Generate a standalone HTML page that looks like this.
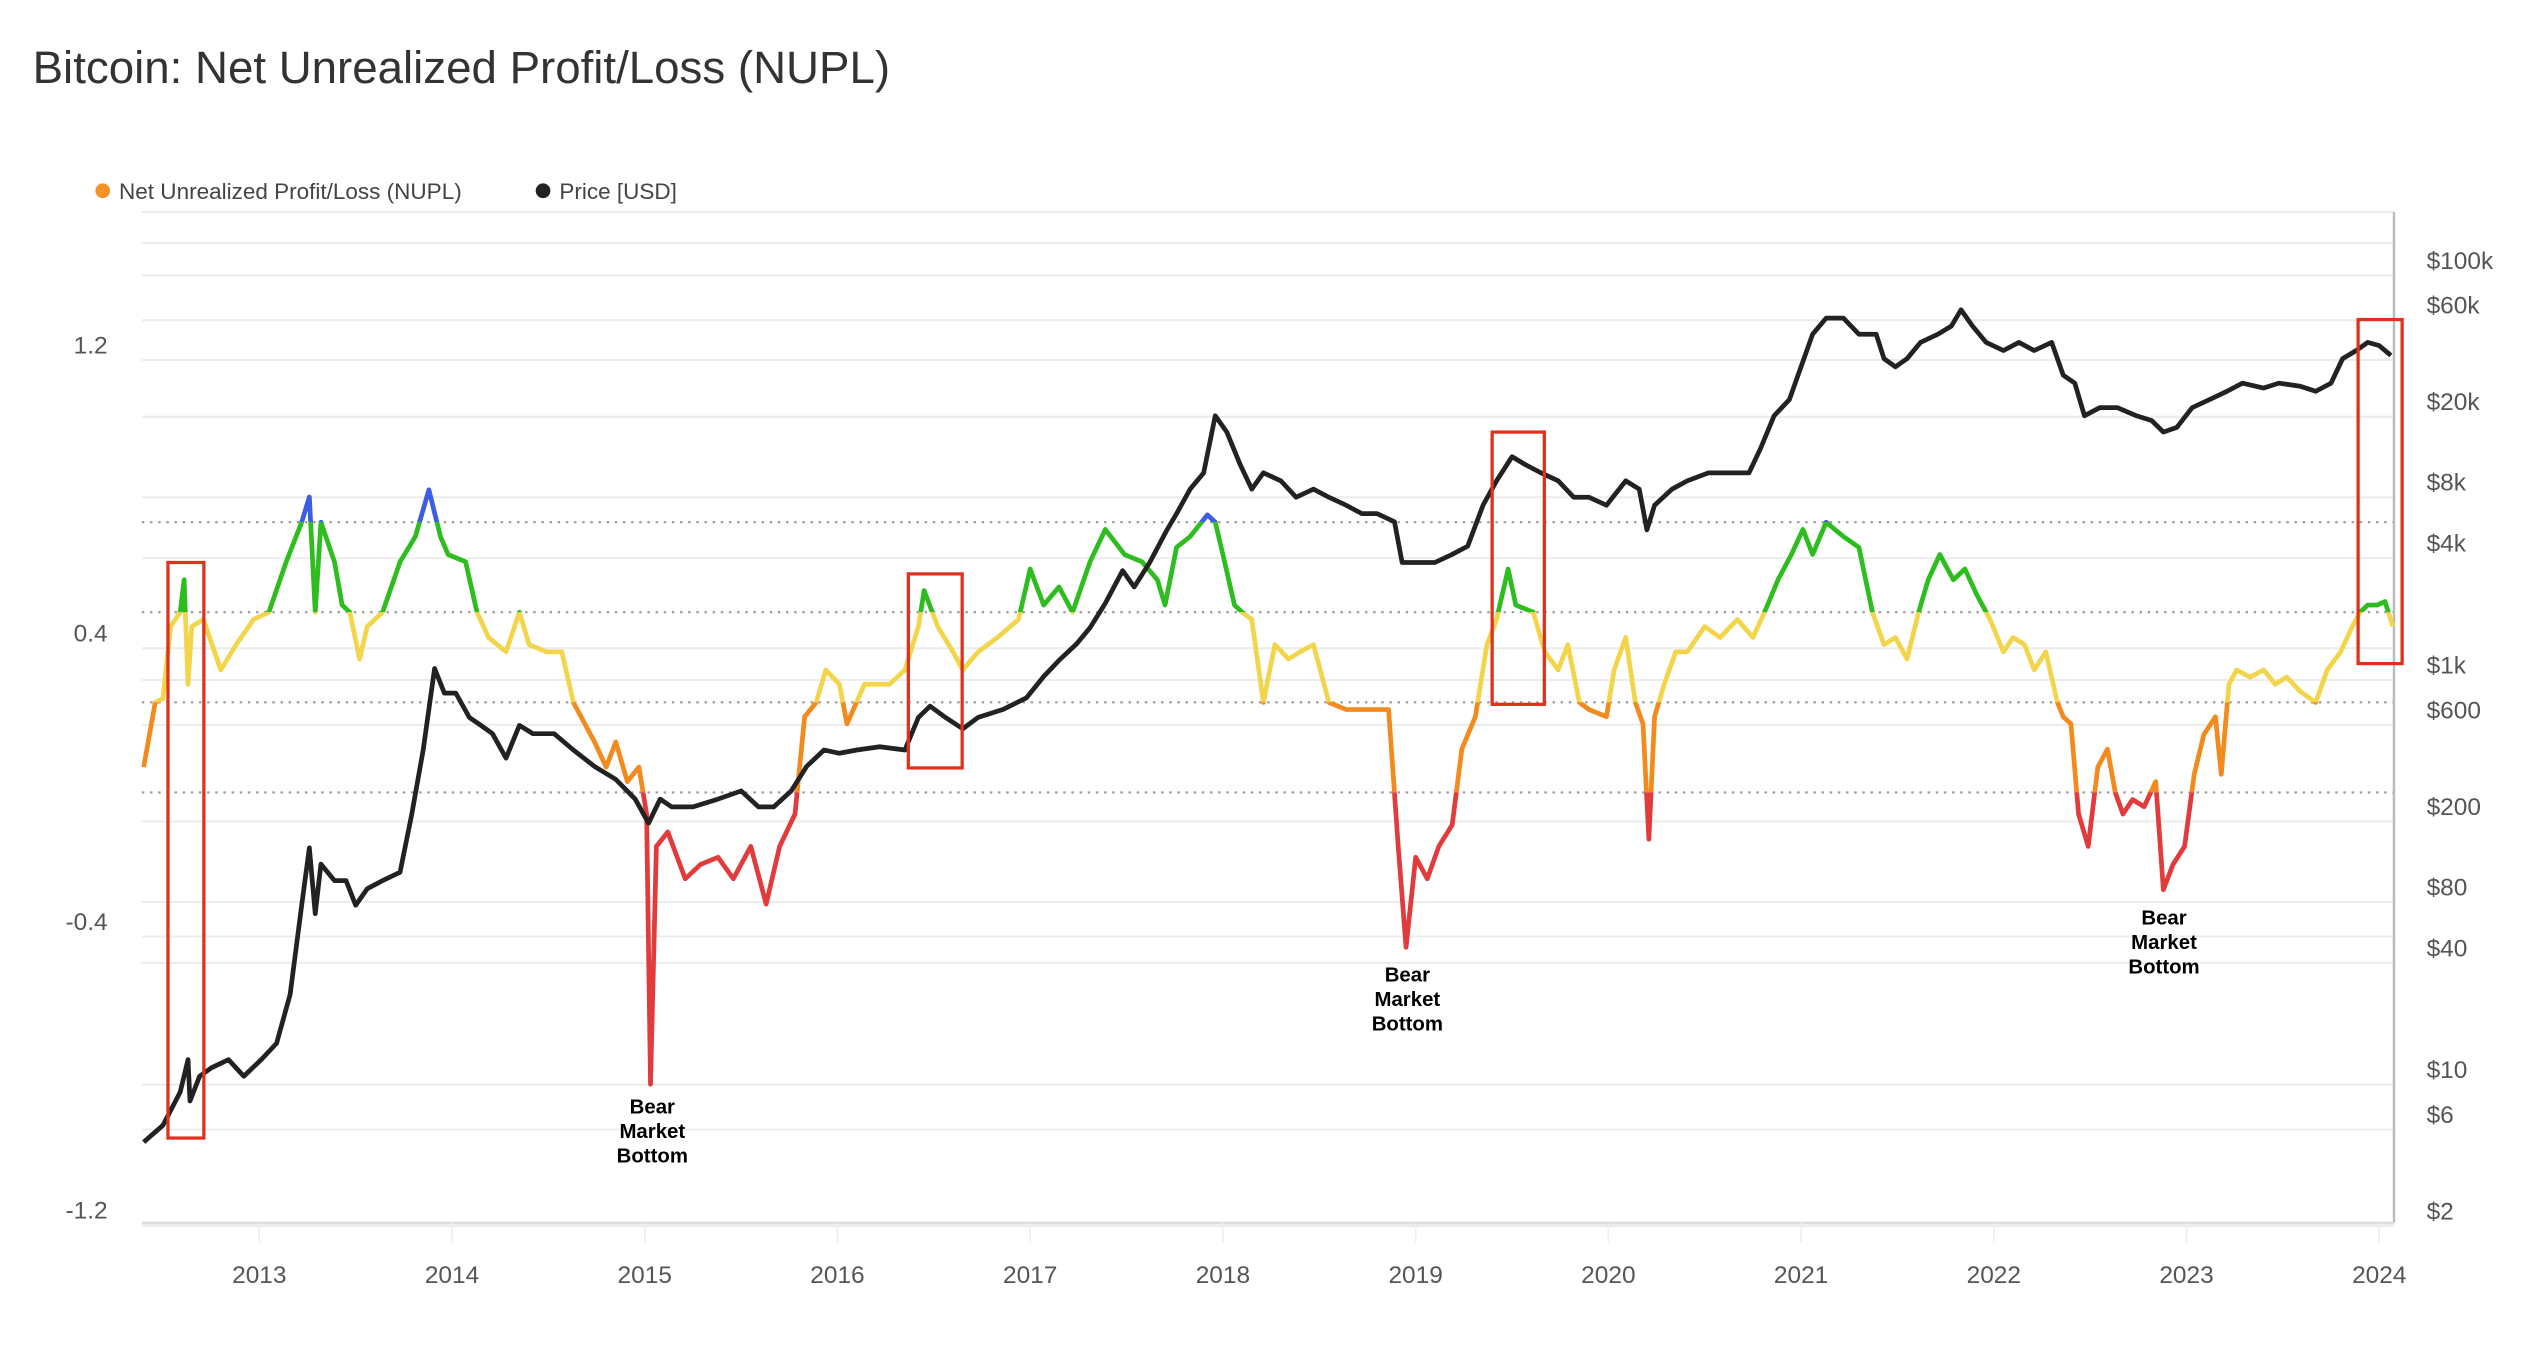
<!DOCTYPE html>
<html><head><meta charset="utf-8">
<style>
html,body{margin:0;padding:0;background:#fff;width:2544px;height:1350px;overflow:hidden;}
svg{display:block;font-family:"Liberation Sans",sans-serif;}
</style></head>
<body>
<svg id="chart" width="2544" height="1350" viewBox="0 0 1560 828" preserveAspectRatio="none" xmlns="http://www.w3.org/2000/svg">
<text x="20" y="51" font-size="28" fill="#333">Bitcoin: Net Unrealized Profit/Loss (NUPL)</text>
<g>
<g><circle cx="63" cy="117" r="4.5" fill="#f39325"/><text x="73" y="122" font-size="13.8" fill="#444">Net Unrealized Profit/Loss (NUPL)</text></g>
<g><circle cx="333" cy="117" r="4.5" fill="#222"/><text x="343" y="122" font-size="13.8" fill="#444">Price [USD]</text></g>
</g>
<g id="grid"></g>
<g id="axes"></g>
<g id="series"></g>
<g id="annot"></g>
</svg>
<script>
const nuplDates=[2012.40,2012.46,2012.50,2012.54,2012.59,2012.61,2012.63,2012.65,2012.71,2012.80,2012.88,2012.97,2013.05,2013.14,2013.22,2013.26,2013.29,2013.32,2013.39,2013.43,2013.47,2013.52,2013.56,2013.64,2013.73,2013.81,2013.88,2013.94,2013.98,2014.07,2014.13,2014.19,2014.28,2014.35,2014.40,2014.49,2014.57,2014.63,2014.74,2014.80,2014.85,2014.91,2014.97,2015.01,2015.03,2015.06,2015.12,2015.21,2015.29,2015.38,2015.46,2015.55,2015.63,2015.70,2015.78,2015.83,2015.89,2015.94,2016.01,2016.05,2016.14,2016.27,2016.35,2016.42,2016.45,2016.52,2016.60,2016.65,2016.73,2016.83,2016.94,2017.00,2017.07,2017.15,2017.22,2017.31,2017.39,2017.49,2017.58,2017.66,2017.70,2017.76,2017.83,2017.92,2017.96,2018.00,2018.06,2018.10,2018.15,2018.21,2018.27,2018.34,2018.40,2018.47,2018.55,2018.64,2018.76,2018.86,2018.91,2018.95,2019.00,2019.06,2019.12,2019.19,2019.24,2019.31,2019.37,2019.42,2019.48,2019.52,2019.61,2019.67,2019.74,2019.79,2019.85,2019.90,2019.99,2020.03,2020.09,2020.14,2020.18,2020.21,2020.24,2020.29,2020.35,2020.41,2020.50,2020.58,2020.67,2020.75,2020.81,2020.88,2020.95,2021.01,2021.06,2021.13,2021.22,2021.30,2021.37,2021.43,2021.49,2021.55,2021.61,2021.66,2021.72,2021.79,2021.85,2021.91,2021.98,2022.05,2022.10,2022.16,2022.21,2022.27,2022.33,2022.36,2022.40,2022.44,2022.49,2022.54,2022.59,2022.63,2022.67,2022.72,2022.78,2022.84,2022.88,2022.93,2022.99,2023.04,2023.09,2023.15,2023.18,2023.22,2023.26,2023.33,2023.40,2023.46,2023.52,2023.59,2023.67,2023.73,2023.80,2023.86,2023.90,2023.94,2023.99,2024.03,2024.07];
const nuplValues=[0.07,0.25,0.26,0.46,0.50,0.59,0.30,0.46,0.48,0.34,0.41,0.48,0.50,0.64,0.75,0.82,0.50,0.75,0.64,0.52,0.50,0.37,0.46,0.50,0.64,0.71,0.84,0.71,0.66,0.64,0.50,0.43,0.39,0.50,0.41,0.39,0.39,0.25,0.14,0.07,0.14,0.03,0.07,-0.06,-0.81,-0.15,-0.11,-0.24,-0.20,-0.18,-0.24,-0.15,-0.31,-0.15,-0.06,0.21,0.25,0.34,0.30,0.19,0.30,0.30,0.34,0.46,0.56,0.46,0.39,0.34,0.39,0.43,0.48,0.62,0.52,0.57,0.50,0.64,0.73,0.66,0.64,0.59,0.52,0.68,0.71,0.77,0.75,0.66,0.52,0.50,0.48,0.25,0.41,0.37,0.39,0.41,0.25,0.23,0.23,0.23,-0.15,-0.43,-0.18,-0.24,-0.15,-0.09,0.12,0.21,0.41,0.48,0.62,0.52,0.50,0.39,0.34,0.41,0.25,0.23,0.21,0.34,0.43,0.25,0.19,-0.13,0.21,0.30,0.39,0.39,0.46,0.43,0.48,0.43,0.50,0.59,0.66,0.73,0.66,0.75,0.71,0.68,0.50,0.41,0.43,0.37,0.50,0.59,0.66,0.59,0.62,0.55,0.48,0.39,0.43,0.41,0.34,0.39,0.25,0.21,0.19,-0.06,-0.15,0.07,0.12,0.00,-0.06,-0.02,-0.04,0.03,-0.27,-0.20,-0.15,0.05,0.16,0.21,0.05,0.30,0.34,0.32,0.34,0.30,0.32,0.28,0.25,0.34,0.39,0.46,0.50,0.52,0.52,0.53,0.46];
const priceDates=[2012.40,2012.50,2012.59,2012.63,2012.64,2012.69,2012.75,2012.84,2012.92,2013.01,2013.09,2013.16,2013.22,2013.26,2013.29,2013.32,2013.39,2013.45,2013.50,2013.56,2013.64,2013.73,2013.79,2013.85,2013.91,2013.96,2014.02,2014.09,2014.15,2014.21,2014.28,2014.35,2014.42,2014.53,2014.63,2014.74,2014.85,2014.95,2015.02,2015.08,2015.14,2015.25,2015.38,2015.50,2015.59,2015.67,2015.76,2015.84,2015.93,2016.01,2016.10,2016.22,2016.35,2016.42,2016.48,2016.56,2016.65,2016.73,2016.86,2016.98,2017.07,2017.15,2017.24,2017.31,2017.39,2017.48,2017.54,2017.62,2017.71,2017.76,2017.83,2017.90,2017.96,2018.02,2018.09,2018.15,2018.21,2018.30,2018.38,2018.47,2018.55,2018.64,2018.72,2018.80,2018.89,2018.93,2019.02,2019.10,2019.19,2019.27,2019.35,2019.42,2019.50,2019.57,2019.65,2019.74,2019.82,2019.90,2019.99,2020.09,2020.16,2020.20,2020.24,2020.33,2020.41,2020.52,2020.62,2020.73,2020.79,2020.86,2020.94,2021.00,2021.06,2021.13,2021.22,2021.30,2021.39,2021.43,2021.49,2021.55,2021.62,2021.71,2021.78,2021.83,2021.89,2021.96,2022.05,2022.13,2022.21,2022.30,2022.36,2022.42,2022.47,2022.55,2022.64,2022.74,2022.82,2022.88,2022.95,2023.03,2023.12,2023.21,2023.29,2023.40,2023.48,2023.59,2023.67,2023.75,2023.81,2023.88,2023.94,2024.00,2024.06];
const priceValues=[5.2,6.3,9.2,13.3,8.3,11,12.1,13.3,11,13.3,16,27.9,77,148,70,123,102,102,77,93,102,112,215,451,1140,862,862,653,596,543,411,596,543,543,451,374,323,258,196,258,236,236,258,283,236,236,283,374,451,434,451,468,451,653,743,653,574,653,716,816,1040,1250,1506,1812,2394,3468,2884,3810,5520,6640,8770,10560,20230,16790,11590,8770,10560,9640,8000,8770,8000,7300,6640,6640,6050,3810,3810,3810,4180,4580,7300,9640,12700,11590,10560,9640,8000,8000,7300,9640,8770,5520,7300,8770,9640,10560,10560,10560,13960,20230,24340,35300,51160,61500,61500,51160,51160,38700,35300,38700,46600,51160,56100,67600,56100,46600,42500,46600,42500,46600,32100,29300,20230,22200,22200,20230,19140,16790,17740,22200,24340,26700,29300,27700,29300,28300,26700,29300,38700,42500,46600,44900,40200];
const yearTicks=[2013,2014,2015,2016,2017,2018,2019,2020,2021,2022,2023,2024];
const nuplTicks=[1.2,0.4,-0.4,-1.2];
const nuplBands=[0.75,0.5,0.25,0];
const priceTicks=[100000,60000,20000,8000,4000,1000,600,200,80,40,10,6,2];
const priceTickLabels=["$100k","$60k","$20k","$8k","$4k","$1k","$600","$200","$80","$40","$10","$6","$2"];

const NS="http://www.w3.org/2000/svg";
const L=87,R=1468,T=130,B=750;
const xs=t=>159+(t-2013)*118.18;
const ys=v=>486-221*v;
const yp=p=>752-124.1*Math.log10(p/2);
function mk(tag,attrs,parent){const e=document.createElementNS(NS,tag);for(const k in attrs)e.setAttribute(k,attrs[k]);parent.appendChild(e);return e;}
const grid=document.getElementById('grid'),axes=document.getElementById('axes'),series=document.getElementById('series'),annot=document.getElementById('annot');
[T,149].concat(priceTicks.map(yp)).concat(nuplTicks.map(ys)).forEach(y=>{
  const l=mk('line',{x1:L,x2:R,y1:y,y2:y,stroke:'#ececec','stroke-width':1.2},grid);
  
  
});
nuplBands.forEach(v=>{
  const l=mk('line',{x1:L,x2:R,y1:ys(v),y2:ys(v),stroke:'#999','stroke-width':1.3,'stroke-dasharray':'1.5 3.5'},grid);
  
  
});
let ax=mk('line',{x1:R,x2:R,y1:T,y2:B,stroke:'#bbb','stroke-width':1.5},axes);


ax=mk('line',{x1:L,x2:R,y1:B,y2:B,stroke:'#ddd','stroke-width':1.5},axes);


yearTicks.forEach(yr=>{
  const tk=mk('line',{x1:xs(yr),x2:xs(yr),y1:B,y2:B+12,stroke:'#eee','stroke-width':1},axes);
  
  
  const t=mk('text',{x:xs(yr),y:787,'text-anchor':'middle','font-size':15,fill:'#555'},axes);
  t.textContent=yr;
  
  
});
nuplTicks.forEach(v=>{
  const t=mk('text',{x:66,y:ys(v)-4,'text-anchor':'end','font-size':15,fill:'#555'},axes);
  t.textContent=v.toFixed(1);
  
  
});
priceTicks.forEach((p,i)=>{
  const t=mk('text',{x:1488,y:yp(p)-4,'font-size':15,fill:'#555'},axes);
  t.textContent=priceTickLabels[i];
  
  
});
const defs=mk('defs',{},document.getElementById('chart'));
const bandEdges=[0,ys(0.75),ys(0.5),ys(0.25),ys(0),828];
const bandColors=['#3d5ee0','#2ebd1f','#f2d54a','#f28a1e','#e23b3b'];
const nd=nuplDates.map((t,i)=>(i?'L':'M')+xs(t).toFixed(1)+' '+ys(nuplValues[i]).toFixed(1)).join(' ');
bandColors.forEach((c,i)=>{
  const cp=mk('clipPath',{id:'band'+i},defs);
  mk('rect',{x:0,y:bandEdges[i],width:1560,height:bandEdges[i+1]-bandEdges[i]},cp);
  const p=mk('path',{d:nd,fill:'none',stroke:c,'stroke-width':2.9,'stroke-linejoin':'round','clip-path':'url(#band'+i+')'},series);
  
  
});
const pd=priceDates.map((t,i)=>(i?'L':'M')+xs(t).toFixed(1)+' '+yp(priceValues[i]).toFixed(1)).join(' ');
const pl=mk('path',{d:pd,fill:'none',stroke:'#222','stroke-width':2.9,'stroke-linejoin':'round'},series);


[[103,345,22,353],[557,352,33,119],[915,265,32,167],[1446,196,27,211]].forEach(b=>{
  const r=mk('rect',{x:b[0],y:b[1],width:b[2],height:b[3],fill:'none',stroke:'#e0301e','stroke-width':2},annot);
  
  
});
[[400,683],[863,602],[1327,567]].forEach(a=>{
  const t=mk('text',{x:a[0],y:a[1],'text-anchor':'middle','font-size':12.5,'font-weight':'bold',fill:'#000'},annot);
  
  
  ['Bear','Market','Bottom'].forEach((w,i)=>{const s=mk('tspan',{x:a[0],dy:i?15:0},t);s.textContent=w;});
});
</script>
</body></html>
